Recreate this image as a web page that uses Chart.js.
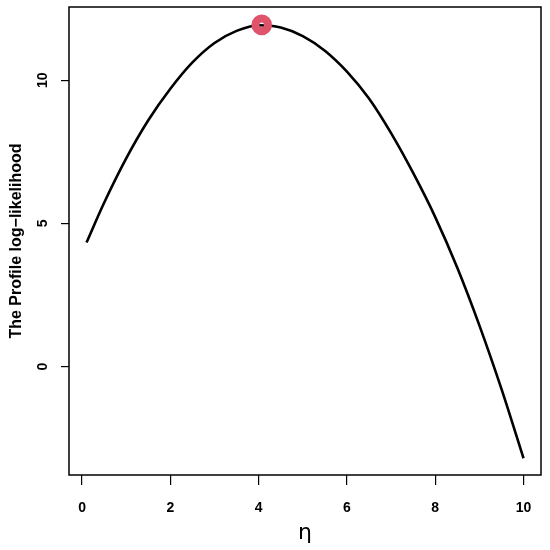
<!DOCTYPE html>
<html>
<head>
<meta charset="utf-8">
<script src="https://cdn.jsdelivr.net/npm/chart.js@4"></script>
<style>
  html, body { margin: 0; padding: 0; background: #fff; }
  canvas { display: block; }
</style>
</head>
<body>
<canvas id="chart" width="550" height="550"></canvas>
<script>
// profile log-likelihood
const eta = [0.1, 0.5, 1, 1.5, 2, 2.5, 3, 3.5, 4, 4.5, 5, 5.5, 6, 6.5, 7, 7.5, 8, 8.5, 9, 9.5, 10];
const logLik = [4.33, 5.72, 7.27, 8.6, 9.7, 10.62, 11.3, 11.72, 11.92, 11.84, 11.54, 11.03, 10.3, 9.36, 8.15, 6.76, 5.22, 3.45, 1.44, -0.78, -3.2];

// maximum
const etaHat = [4.07];
const logLikHat = [11.93];

const xTicks = [0, 2, 4, 6, 8, 10];
const yTicks = [0, 5, 10];

const tickFont = { family: "'Liberation Sans', Arial, sans-serif", size: 14, weight: "bold" };

// plot frame like R's box()
const boxPlugin = {
  id: "box",
  afterDraw(chart) {
    const a = chart.chartArea;
    const ctx = chart.ctx;
    ctx.save();
    ctx.strokeStyle = "#000";
    ctx.lineWidth = 1.5;
    ctx.strokeRect(a.left, a.top, a.right - a.left, a.bottom - a.top);
    ctx.restore();
  }
};

function noPad(s) {
  s.paddingTop = 0; s.paddingBottom = 0; s.paddingLeft = 0; s.paddingRight = 0;
}

const ctx = document.getElementById("chart").getContext("2d");
new Chart(ctx, {
  type: "line",
  data: {
    datasets: [
      {
        data: etaHat.map((x, i) => ({ x, y: logLikHat[i] })),
        showLine: false,
        pointRadius: 6.3,
        pointBorderWidth: 8,
        pointBorderColor: "#DF536B",
        pointBackgroundColor: "rgba(0,0,0,0)",
        order: 0
      },
      {
        data: eta.map((x, i) => ({ x, y: logLik[i] })),
        borderColor: "#000",
        borderWidth: 2.6,
        pointRadius: 0,
        cubicInterpolationMode: "monotone",
        fill: false,
        order: 1
      }
    ]
  },
  options: {
    responsive: false,
    animation: false,
    events: [],
    layout: { autoPadding: false, padding: { top: 7, right: 9, left: 0, bottom: 0 } },
    plugins: {
      legend: { display: false },
      tooltip: { enabled: false }
    },
    scales: {
      x: {
        type: "linear",
        min: -0.296,
        max: 10.396,
        afterBuildTicks: s => { s.ticks = xTicks.map(v => ({ value: v })); },
        afterFit: s => { s.height = 75; noPad(s); },
        border: { display: false },
        grid: { drawOnChartArea: false, tickLength: 10, color: "#000", lineWidth: 1.2 },
        ticks: { color: "#000", font: tickFont, padding: 15, autoSkip: false, maxRotation: 0 },
        title: {
          display: true,
          text: "η",
          color: "#000",
          font: { family: "'DejaVu Sans', sans-serif", size: 22 },
          padding: { top: 0, bottom: 4 }
        }
      },
      y: {
        type: "linear",
        min: -3.785,
        max: 12.555,
        afterBuildTicks: s => { s.ticks = yTicks.map(v => ({ value: v })); },
        afterFit: s => { s.width = 69; noPad(s); },
        border: { display: false },
        grid: { drawOnChartArea: false, tickLength: 8, color: "#000", lineWidth: 1.2 },
        ticks: {
          color: "#000",
          font: tickFont,
          padding: 10,
          autoSkip: false,
          minRotation: 90,
          maxRotation: 90,
          crossAlign: "center"
        },
        title: {
          display: true,
          text: "The Profile log−likelihood",
          color: "#000",
          font: { family: "'Liberation Sans', Arial, sans-serif", size: 16, weight: "bold" },
          padding: { top: 7, bottom: 0 }
        }
      }
    }
  },
  plugins: [boxPlugin]
});
</script>
</body>
</html>
